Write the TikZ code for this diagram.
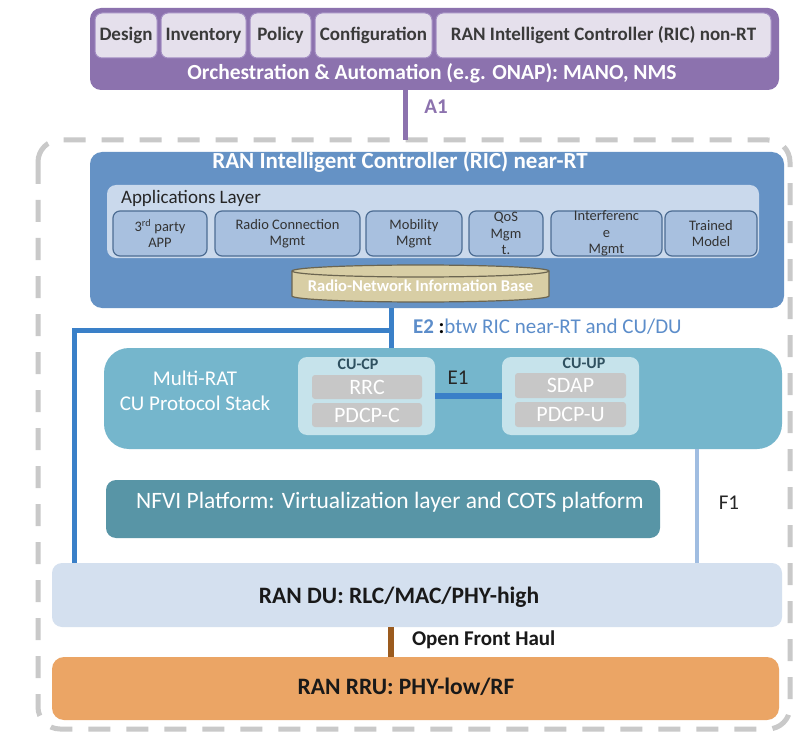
\documentclass[tikz,border=0pt]{standalone}
\usepackage{fontspec}
\setmainfont{Carlito}
\usetikzlibrary{calc}

\definecolor{orchpurple}{HTML}{8C72AE}
\definecolor{mgmtfill}{HTML}{E5E0EC}
\definecolor{mgmtedge}{HTML}{A28DC2}
\definecolor{mgmttext}{HTML}{3A3A3A}
\definecolor{ricblue}{HTML}{6592C5}
\definecolor{appslayer}{HTML}{CAD9EC}
\definecolor{appfill}{HTML}{A8C0DF}
\definecolor{appedge}{HTML}{4D6D93}
\definecolor{rnibfill}{HTML}{D8CEA5}
\definecolor{rnibedge}{HTML}{6B6550}
\definecolor{eline}{HTML}{3A80C8}
\definecolor{etext}{HTML}{5C8DCA}
\definecolor{cufill}{HTML}{75B6CC}
\definecolor{cuinner}{HTML}{C6E3EB}
\definecolor{layergray}{HTML}{C7C7C7}
\definecolor{cuhead}{HTML}{2F5160}
\definecolor{nfvifill}{HTML}{5895A6}
\definecolor{f1blue}{HTML}{A0BDE1}
\definecolor{dufill}{HTML}{D4E0EF}
\definecolor{fhbrown}{HTML}{9B5B1E}
\definecolor{rrufill}{HTML}{EBA565}
\definecolor{framegray}{HTML}{C9C9C9}

% box given by its corners (x1,y1) and (x2,y2) in pixel units;
% its text is set in a separate node so that the box keeps its size
\newcommand\placebox[7]{%
  \pgfmathsetmacro\pbX{(#2+#4)/2}\pgfmathsetmacro\pbY{(#3+#5)/2}%
  \pgfmathsetmacro\pbW{#4-#2}\pgfmathsetmacro\pbH{#5-#3}%
  \node[#6, minimum width=\pbW pt, minimum height=\pbH pt] (#1) at (\pbX,\pbY) {};
  \node[#6, draw=none, fill=none] (#1-text) at (#1.center) {#7};}

\begin{document}
\begin{tikzpicture}[x=1pt,y=-1pt,
  every node/.style={inner sep=0pt, outer sep=0pt},
  boxbase/.style={align=center},
  orchbox/.style={boxbase, fill=orchpurple, rounded corners=11pt},
  mgmtbox/.style={boxbase, fill=mgmtfill, draw=mgmtedge, line width=1pt, rounded corners=7pt,
    text=mgmttext, font=\fontsize{19}{22}\selectfont\bfseries},
  orchtext/.style={text=white, font=\fontsize{21.5}{24}\selectfont\bfseries},
  a1line/.style={draw=orchpurple, line width=5pt},
  a1text/.style={text=orchpurple, font=\fontsize{21}{24}\selectfont\bfseries},
  ricbox/.style={boxbase, fill=ricblue, rounded corners=12pt},
  rictitle/.style={text=white, font=\fontsize{23}{27}\selectfont\bfseries},
  appslayerbox/.style={boxbase, fill=appslayer, rounded corners=9pt},
  appstitle/.style={text=black!85, font=\fontsize{19}{22}\selectfont},
  appbox/.style={boxbase, fill=appfill, draw=appedge, line width=1.2pt, rounded corners=7pt,
    text=black!80, font=\fontsize{14.5}{16.5}\selectfont},
  rnibtext/.style={text=white, font=\fontsize{16.5}{19}\selectfont\bfseries},
  eline/.style={draw=eline, line width=5pt},
  cubox/.style={boxbase, fill=cufill, rounded corners=25pt},
  cutext/.style={text=white, align=center, font=\fontsize{21}{25}\selectfont},
  cuinnerbox/.style={boxbase, fill=cuinner, rounded corners=9pt},
  cuheadtext/.style={text=cuhead, font=\fontsize{16}{18}\selectfont\bfseries},
  layerbox/.style={boxbase, fill=layergray, rounded corners=3pt, text=white,
    font=\fontsize{22}{25}\selectfont},
  nfvibox/.style={boxbase, fill=nfvifill, rounded corners=10pt},
  nfvitext/.style={text=white, font=\fontsize{23.5}{27}\selectfont},
  f1line/.style={draw=f1blue, line width=4pt},
  plaintext/.style={text=black!85, font=\fontsize{21}{24}\selectfont},
  dubox/.style={boxbase, fill=dufill, rounded corners=10pt},
  rrubox/.style={boxbase, fill=rrufill, rounded corners=12pt},
  bigtext/.style={text=black!90, font=\fontsize{23.5}{28}\selectfont\bfseries},
  fhline/.style={draw=fhbrown, line width=6pt},
  fhtext/.style={text=black!90, font=\fontsize{21}{24}\selectfont\bfseries},
  domainframe/.style={draw=framegray, line width=5pt, dash pattern=on 22pt off 16pt,
    rounded corners=22pt}
]
\useasboundingbox (0,0) rectangle (796,733);
\fill[white] (0,0) rectangle (796,733);

% dashed RAN domain frame
\draw[domainframe] (38,140) rectangle (790,729);

% orchestration and automation
\placebox{orch}{90}{8}{779}{90}{orchbox}{}
\placebox{design}{95}{13}{157}{58}{mgmtbox}{Design}
\placebox{inventory}{161}{13}{246}{58}{mgmtbox}{Inventory}
\placebox{policy}{250}{13}{311}{58}{mgmtbox}{Policy}
\placebox{config}{315}{13}{432}{58}{mgmtbox}{Configuration}
\placebox{ricnonrt}{436}{13}{771}{58}{mgmtbox}{RAN Intelligent Controller (RIC) non-RT}
\node[orchtext] (orchlabel) at (432,73) {Orchestration \& Automation (e.g. ONAP): MANO, NMS};

% A1 interface
\coordinate (a1end) at (405,140);
\draw[a1line] (orch.south -| a1end) -- (a1end);
\node[a1text] (a1label) at (436,107) {A1};

% near-RT RIC
\placebox{ric}{90}{152}{784}{308}{ricbox}{}
\node[rictitle] (rictitlelabel) at (400,162) {RAN Intelligent Controller (RIC) near-RT};
\placebox{appslayer}{107}{185}{759}{258}{appslayerbox}{}
\node[appstitle, anchor=west] (appslabel) at (121,198) {Applications Layer};
\placebox{app3p}{113}{211}{207}{256}{appbox}{3\textsuperscript{rd} party\\APP}
\placebox{radioconn}{215}{211}{360}{256}{appbox}{Radio Connection\\Mgmt}
\placebox{mobility}{366}{211}{462}{256}{appbox}{Mobility\\Mgmt}
\placebox{qos}{469}{211}{543}{256}{appbox}{QoS\\Mgm\\t.}
\placebox{interf}{551}{211}{662}{256}{appbox}{Interferenc\\e\\Mgmt}
\placebox{trained}{665}{211}{757}{256}{appbox}{Trained\\Model}

% radio-network information base (cylinder)
\filldraw[fill=rnibfill, draw=rnibedge, line width=1.2pt]
  (292,271) -- (292,296) arc[start angle=180, end angle=360, x radius=128.5pt, y radius=6pt]
  -- (549,271) arc[start angle=0, end angle=180, x radius=128.5pt, y radius=6pt] -- cycle;
\draw[rnibedge, line width=1.2pt]
  (292,271) arc[start angle=180, end angle=360, x radius=128.5pt, y radius=6pt];
\node[rnibtext] (rnib) at (420.5,286) {Radio-Network Information Base};

% CU
\placebox{cu}{104}{348}{782}{449}{cubox}{}
\node[cutext] (multirat) at (195,391) {Multi-RAT\\CU Protocol Stack};
\placebox{cucp}{298}{357}{435}{435}{cuinnerbox}{}
\node[cuheadtext] (cucplabel) at (358,364) {CU-CP};
\placebox{rrc}{312}{375}{422}{399}{layerbox}{RRC}
\placebox{pdcpc}{312}{403}{422}{427}{layerbox}{PDCP-C}
\placebox{cuup}{502}{357}{639}{435}{cuinnerbox}{}
\node[cuheadtext] (cuuplabel) at (584,363) {CU-UP};
\placebox{sdap}{515}{373}{626}{398}{layerbox}{SDAP}
\placebox{pdcpu}{515}{402}{626}{427}{layerbox}{PDCP-U}
\draw[eline, line width=6pt] (cucp.east) -- (cuup.west);
\node[plaintext] (e1label) at (458,378) {E1};

% NFVI
\placebox{nfvi}{106}{480}{660}{538}{nfvibox}{}
\node[nfvitext] (nfvilabel) at (390,502) {NFVI Platform: Virtualization layer and COTS platform};

% DU and RRU
\placebox{du}{52}{563}{782}{627}{dubox}{}
\node[bigtext] (dulabel) at (399,597) {RAN DU: RLC/MAC/PHY-high};
\placebox{rru}{52}{657}{779}{720}{rrubox}{}
\node[bigtext] (rrulabel) at (406,687) {RAN RRU: PHY-low/RF};

% E2 interface
\coordinate (e2turn) at (391,330);
\coordinate (e2left) at (74,330);
\draw[eline] (ric.south -| e2turn) -- (cu.north -| e2turn);
\draw[eline] (e2turn) -- (e2left) -- (du.north -| e2left);
\node[anchor=west, font=\fontsize{21}{24}\selectfont] (e2label) at (413,327)
  {{\bfseries\color{etext}E2} {\bfseries :}{\color{etext}btw RIC near-RT and CU/DU}};

% F1 interface
\coordinate (f1x) at (697,0);
\draw[f1line] (cu.south -| f1x) -- (du.north -| f1x);
\node[plaintext] (f1label) at (729,503) {F1};

% open front haul
\coordinate (fhx) at (391,0);
\draw[fhline] (du.south -| fhx) -- (rru.north -| fhx);
\node[fhtext, anchor=west] (fhlabel) at (412,640) {Open Front Haul};
\end{tikzpicture}
\end{document}
